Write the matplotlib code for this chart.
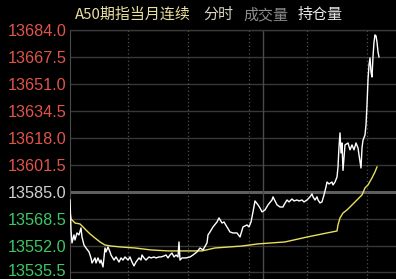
import matplotlib
matplotlib.use("Agg")
import matplotlib.pyplot as plt
import matplotlib.transforms as mtransforms

# time index (minutes from open) and last price
price_t = [0, 1, 2, 4, 5, 7, 9, 11, 12, 14, 16, 19, 21, 22, 25, 26, 28, 30, 31, 33,
           35, 36, 38, 40, 41, 44, 46, 49, 51, 53, 55, 58, 60, 62, 64, 66, 69, 71, 72, 74,
           76, 79, 81, 84, 86, 89, 91, 94, 96, 98, 100, 102, 104, 106, 108, 109, 110, 112, 116, 120,
           123, 127, 130, 133, 137, 138, 140, 143, 147, 149, 152, 154, 157, 160, 163, 167, 170, 173, 177, 179,
           181, 183, 185, 188, 190, 192, 195, 198, 202, 203, 207, 210, 213, 214, 217, 219, 222, 224, 227, 229,
           232, 234, 237, 240, 242, 243, 245, 247, 248, 250, 252, 254, 256, 257, 259, 262, 263, 265, 267, 268,
           269, 270, 271, 272, 273, 275, 278, 280, 282, 284, 286, 288, 289, 291, 292, 293, 295, 296, 297, 298,
           299, 300, 301, 302, 303, 304, 305, 306, 307, 308, 309]
price = [13579.9, 13561.5, 13553.6, 13558.5, 13555.4, 13559.7, 13558.5, 13562.8, 13557.2, 13552.3,
         13550.5, 13548.1, 13544.4, 13541.3, 13544.4, 13541.3, 13544.4, 13541.3, 13543.1, 13538.9,
         13550.5, 13548.1, 13551.1, 13548.1, 13546.2, 13543.1, 13545.0, 13541.9, 13544.4, 13543.1,
         13545.0, 13543.1, 13545.0, 13541.9, 13539.5, 13541.9, 13544.4, 13543.1, 13546.2, 13544.4,
         13543.1, 13545.0, 13544.4, 13545.0, 13544.4, 13545.0, 13545.0, 13545.6, 13546.2, 13544.4,
         13546.2, 13547.4, 13545.0, 13546.2, 13545.0, 13554.2, 13543.1, 13544.4, 13544.4, 13545.0,
         13546.2, 13548.1, 13550.5, 13549.3, 13553.6, 13558.5, 13560.3, 13563.4, 13566.4, 13568.9,
         13565.8, 13566.4, 13563.4, 13560.3, 13559.7, 13559.7, 13557.2, 13563.4, 13564.6, 13563.4,
         13566.4, 13572.6, 13579.3, 13576.9, 13575.0, 13572.6, 13573.8, 13576.9, 13579.9, 13581.8,
         13576.9, 13575.6, 13575.6, 13576.9, 13579.9, 13578.7, 13580.5, 13579.3, 13579.9, 13579.3,
         13579.9, 13578.7, 13579.9, 13581.8, 13583.6, 13581.8, 13579.9, 13581.8, 13579.9, 13578.1,
         13578.7, 13583.0, 13587.9, 13590.9, 13589.7, 13590.9, 13589.1, 13590.9, 13594.0, 13600.1,
         13612.4, 13621.0, 13608.7, 13614.8, 13598.0, 13613.6, 13614.8, 13610.6, 13613.6, 13610.6,
         13614.8, 13611.8, 13607.5, 13599.5, 13611.8, 13616.5, 13619.7, 13625.9, 13638.0, 13653.5,
         13662.6, 13666.9, 13658.3, 13655.2, 13667.5, 13676.6, 13681.0, 13680.4, 13676.6, 13670.6,
         13667.5]

# average price line
avg_t = [0, 1, 5, 10, 13, 16, 20, 25, 30, 35, 41, 51, 65, 81, 98, 108, 132, 145, 172, 188,
         215, 237, 257, 267, 268, 270, 273, 277, 280, 285, 292, 295, 298, 302, 305, 307]
avg = [13572.6, 13568.3, 13565.8, 13565.2, 13563.4, 13561.5, 13559.1, 13556.6, 13554.2, 13552.3,
       13551.7, 13551.1, 13550.5, 13549.3, 13548.7, 13548.7, 13548.7, 13550.5, 13551.7, 13553.0,
       13554.2, 13557.2, 13559.7, 13560.9, 13564.6, 13568.9, 13571.9, 13573.8, 13575.6, 13578.7,
       13583.0, 13587.3, 13589.1, 13593.4, 13597.1, 13600.1]

prev_close = 13585.0
y_ticks = [13535.5, 13552.0, 13568.5, 13585.0, 13601.5, 13618.0, 13634.5, 13651.0, 13667.5, 13684.0]
t_dotted = [58, 118, 179, 237, 297]
t_break = 193
t_end = 326

title_parts = ["A50期指当月连续", "分时", "成交量", "持仓量"]
title_colors = ["#e8dfa0", "#d8d4c0", "#8c8c8c", "#e8e8e8"]
title_x = [75, 203, 243, 298]

W, H = 396, 279
fig = plt.figure(figsize=(W / 100, H / 100), dpi=100, facecolor="black")
ax = fig.add_axes([70 / W, 0, (W - 70) / W, 249 / H], facecolor="black")

for v in y_ticks:
    if v == prev_close:
        ax.axhline(v, color="#5e5e5e", lw=2.2, zorder=1)
    else:
        ax.axhline(v, color="#383838", lw=1.0, zorder=1)
for t in t_dotted:
    ax.axvline(t, color="#505050", lw=0.9, ls=(0, (1, 2)), zorder=1)
ax.axvline(t_break, color="#4a4a4a", lw=1.0, zorder=1)

ax.plot(avg_t, avg, color="#e6e05a", lw=1.0, zorder=3)
ax.plot(price_t, price, color="white", lw=1.0, zorder=4)

ax.set_xlim(0, t_end)
ax.set_ylim(13531.5, 13684.0)
ax.set_xticks([])
ax.set_yticks(y_ticks)
ax.set_yticklabels([f"{v:.1f}" for v in y_ticks], fontsize=11.7, family="Liberation Sans")
for lab, v in zip(ax.get_yticklabels(), y_ticks):
    if v > prev_close:
        lab.set_color("#e05548")
    elif v < prev_close:
        lab.set_color("#3cc864")
    else:
        lab.set_color("#d0d0d0")
ax.tick_params(axis="y", length=0, pad=2.5)

# keep the lowest label inside the figure
low = ax.get_yticklabels()[0]
low.set_transform(low.get_transform() + mtransforms.ScaledTranslation(0, 2 / 100, fig.dpi_scale_trans))

for side in ["right", "bottom"]:
    ax.spines[side].set_visible(False)
ax.spines["left"].set_color("#4a4a4a")
ax.spines["top"].set_color("#383838")
ax.spines["top"].set_linewidth(1.0)

for text, col, x in zip(title_parts, title_colors, title_x):
    fig.text(x / W, 1 - 15 / H, text, color=col, fontsize=10.8,
             family=["Noto Sans CJK SC", "DejaVu Sans"], va="center", ha="left")

fig.savefig("out.png", dpi=100, facecolor="black")
